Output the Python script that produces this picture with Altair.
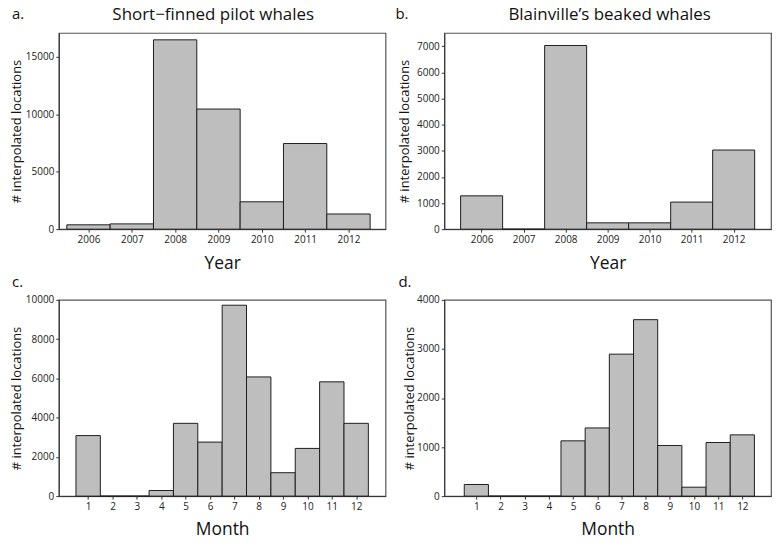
import altair as alt
import pandas as pd

years = [2006, 2007, 2008, 2009, 2010, 2011, 2012]
pilot_year = [380, 460, 16470, 10450, 2380, 7450, 1320]
beaked_year = [1275, 0, 7025, 242, 242, 1036, 3027]

months = [1, 2, 3, 4, 5, 6, 7, 8, 9, 10, 11, 12]
pilot_month = [3085, 0, 0, 287, 3709, 2753, 9728, 6074, 1193, 2431, 5823, 3709]
beaked_month = [237, 0, 0, 0, 1127, 1390, 2894, 3597, 1032, 182, 1093, 1249]

FONT = "Open Sans"
YTITLE = "# interpolated locations"
W, H = 328, 197


def panel(cats, vals, letter, title, xtitle, xdom, ydom, yticks,
          ytitle_x, lab_x, lab_y, title_dx):
    df = pd.DataFrame({"c": cats, "v": vals})
    df["lo"] = df["c"] - 0.5
    df["hi"] = df["c"] + 0.5
    df["base"] = 0
    bars = alt.Chart(df).mark_bar(
        fill="#bebebe", stroke="#1e1e1e", strokeWidth=1, orient="vertical"
    ).encode(
        x=alt.X("lo:Q",
                scale=alt.Scale(domain=xdom, nice=False, zero=False),
                axis=alt.Axis(values=cats, format="d", title=xtitle,
                              grid=False, tickSize=3, labelPadding=2,
                              labelFontSize=10, labelFont=FONT, labelColor="#222",
                              titleFont=FONT, titleFontSize=17.5,
                              titleFontWeight="normal", titleColor="#111",
                              titlePadding=10, domainColor="#333",
                              tickColor="#333")),
        x2="hi:Q",
        y=alt.Y("v:Q",
                scale=alt.Scale(domain=ydom, nice=False),
                axis=alt.Axis(values=yticks, format="d", title=YTITLE,
                              grid=False, tickSize=3, labelPadding=2,
                              labelFontSize=10, labelFont=FONT, labelColor="#222",
                              titleFont=FONT, titleFontSize=13,
                              titleFontWeight="normal", titleColor="#111",
                              titleX=ytitle_x, titleY=H / 2,
                              titleAngle=270, titleBaseline="bottom",
                              titleAlign="center",
                              domainColor="#333", tickColor="#333")),
        y2="base:Q",
    )
    lab = alt.Chart(pd.DataFrame({"t": [letter]})).mark_text(
        align="left", baseline="alphabetic", font=FONT, fontSize=15,
        color="#111"
    ).encode(x=alt.value(lab_x), y=alt.value(lab_y), text="t:N")
    layers = [bars, lab]
    if title:
        ttl = alt.Chart(pd.DataFrame({"t": [title]})).mark_text(
            align="center", baseline="alphabetic", font=FONT, fontSize=17,
            color="#111"
        ).encode(x=alt.value(W / 2 + title_dx), y=alt.value(-13), text="t:N")
        layers.append(ttl)
    return alt.layer(*layers).properties(width=W, height=H)


a = panel(years, pilot_year, "a.", "Short\u2212finned pilot whales", "Year",
          [2005.43, 2012.74], [0, 17070], [0, 5000, 10000, 15000],
          -35, -47, -14, -9)
b = panel(years, beaked_year, "b.", "Blainville\u2019s beaked whales", "Year",
          [2005.23, 2012.77], [0, 7505],
          [0, 1000, 2000, 3000, 4000, 5000, 6000, 7000],
          -33, -49, -14, 2)
c = panel(months, pilot_month, "c.", None, "Month",
          [0.0, 13.0], [0, 10000], [0, 2000, 4000, 6000, 8000, 10000],
          -35, -47, -13, 0)
d = panel(months, beaked_month, "d.", None, "Month",
          [-0.12, 12.98], [0, 4000], [0, 1000, 2000, 3000, 4000],
          -28, -46, -13, 0)

chart = alt.concat(
    a, b, c, d, columns=2, bounds="flush",
    spacing=alt.RowColnumber(row=71, column=59),
).properties(
    padding={"left": 2, "top": -4, "right": 0, "bottom": -5},
    background="white"
).configure_view(stroke="#555", strokeWidth=1.2)

chart.save("out.html", embed_options={"renderer": "svg", "actions": False})
